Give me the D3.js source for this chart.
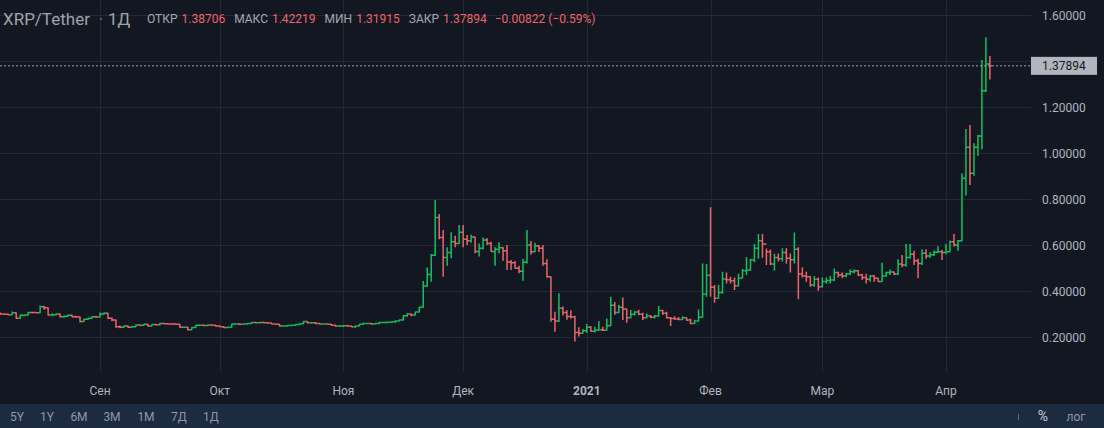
<!DOCTYPE html>
<html>
<head>
<meta charset="utf-8">
<script src="https://cdn.jsdelivr.net/npm/d3@7"></script>
<style>
html, body { margin: 0; padding: 0; background: #131722; }
svg { display: block; font-family: Roboto, "Noto Sans", sans-serif; }
</style>
</head>
<body>
<svg id="chart" width="1104" height="428"></svg>
<script>
// daily XRP/USDT bars, first bar on 2020-08-07
var firstDay = Date.UTC(2020, 7, 7);

var open = [
  .303,.300,.299,.297,.305,.282,.295,.296,.307,.306,
  .305,.332,.327,.296,.297,.300,.288,.290,.295,.288,
  .287,.267,.277,.281,.288,.287,.300,.303,.282,.274,
  .245,.242,.248,.242,.245,.252,.251,.255,.248,.254,
  .253,.259,.258,.257,.256,.255,.242,.242,.231,.241,
  .251,.251,.250,.252,.251,.248,.245,.241,.242,.256,
  .257,.255,.257,.259,.263,.262,.263,.262,.261,.257,
  .255,.248,.248,.250,.251,.254,.258,.267,.262,.262,
  .259,.257,.257,.255,.251,.248,.248,.249,.248,.245,
  .248,.255,.259,.259,.256,.259,.263,.263,.264,.265,
  .270,.274,.292,.300,.296,.309,.329,.422,.472,.555,
  .720,.633,.546,.567,.614,.607,.655,.625,.618,.635,
  .572,.586,.622,.607,.572,.581,.588,.575,.526,.523,
  .499,.486,.525,.600,.571,.596,.586,.520,.462,.277,
  .270,.325,.307,.289,.287,.220,.216,.2275,.242,.2246,
  .229,.232,.229,.249,.338,.307,.329,.322,.284,.299,
  .309,.299,.284,.291,.286,.291,.315,.303,.284,.280,
  .278,.276,.284,.274,.259,.270,.286,.386,.468,.416,
  .368,.393,.452,.449,.445,.423,.455,.488,.491,.535,
  .586,.619,.604,.571,.517,.546,.540,.567,.542,.536,
  .581,.474,.465,.462,.426,.451,.419,.441,.446,.448,
  .480,.470,.465,.474,.484,.488,.470,.459,.451,.465,
  .455,.441,.465,.480,.483,.474,.517,.513,.546,.560,
  .532,.520,.564,.552,.558,.568,.571,.567,.571,.614,
  .600,.619,.890,1.025,.912,1.025,1.074,1.271,1.38706
];
var high = [
  .306,.303,.301,.311,.307,.297,.298,.310,.310,.309,
  .337,.336,.328,.302,.302,.301,.293,.298,.297,.292,
  .289,.280,.283,.290,.291,.306,.308,.305,.285,.276,
  .250,.250,.250,.248,.254,.254,.257,.257,.255,.256,
  .262,.261,.260,.259,.258,.256,.246,.244,.243,.252,
  .253,.254,.254,.254,.252,.250,.247,.244,.258,.258,
  .259,.258,.261,.264,.265,.265,.266,.264,.262,.259,
  .256,.251,.252,.253,.255,.259,.270,.268,.264,.264,
  .261,.260,.258,.256,.253,.250,.252,.251,.249,.250,
  .257,.262,.262,.261,.261,.265,.266,.267,.267,.272,
  .276,.296,.303,.302,.310,.332,.443,.502,.561,.796,
  .735,.665,.590,.655,.640,.687,.687,.643,.645,.636,
  .606,.633,.630,.614,.590,.612,.590,.600,.535,.530,
  .510,.540,.665,.617,.610,.600,.600,.538,.463,.310,
  .390,.333,.316,.316,.292,.242,.235,.257,.248,.245,
  .270,.245,.280,.375,.352,.339,.372,.323,.317,.312,
  .318,.305,.302,.296,.296,.335,.318,.310,.287,.290,
  .287,.290,.285,.279,.275,.320,.520,.517,.764,.426,
  .426,.484,.480,.462,.459,.475,.496,.548,.540,.604,
  .648,.648,.585,.580,.562,.563,.586,.586,.563,.654,
  .590,.503,.484,.465,.465,.459,.459,.459,.465,.498,
  .484,.480,.478,.494,.494,.491,.475,.475,.470,.470,
  .458,.523,.484,.494,.484,.538,.557,.604,.604,.575,
  .540,.582,.582,.570,.576,.595,.578,.604,.620,.648,
  .622,.911,1.104,1.122,1.042,1.078,1.404,1.503,1.42219
];
var low = [
  .298,.297,.295,.296,.279,.280,.290,.294,.302,.303,
  .304,.318,.294,.292,.294,.285,.284,.288,.286,.284,
  .263,.265,.274,.279,.284,.286,.298,.278,.268,.240,
  .238,.240,.240,.241,.243,.248,.249,.246,.247,.250,
  .250,.255,.255,.254,.252,.240,.239,.228,.230,.240,
  .248,.249,.248,.249,.246,.243,.239,.238,.241,.253,
  .252,.253,.255,.257,.260,.259,.260,.258,.255,.253,
  .246,.245,.247,.248,.249,.252,.257,.259,.258,.257,
  .255,.254,.253,.249,.245,.244,.244,.245,.243,.240,
  .247,.253,.255,.254,.255,.257,.260,.261,.262,.263,
  .268,.272,.288,.290,.294,.306,.327,.419,.440,.553,
  .625,.462,.510,.542,.590,.604,.590,.600,.610,.564,
  .550,.580,.600,.571,.510,.564,.532,.491,.491,.498,
  .477,.445,.520,.559,.568,.570,.510,.458,.266,.223,
  .265,.293,.275,.280,.180,.202,.214,.219,.224,.220,
  .228,.226,.228,.248,.297,.303,.274,.262,.282,.294,
  .295,.274,.281,.281,.280,.288,.296,.280,.248,.275,
  .274,.275,.270,.255,.256,.267,.285,.375,.375,.349,
  .366,.388,.433,.433,.404,.420,.455,.470,.488,.525,
  .540,.545,.513,.513,.488,.528,.528,.520,.480,.520,
  .364,.459,.440,.419,.419,.401,.415,.433,.433,.444,
  .459,.455,.460,.470,.476,.465,.448,.433,.440,.440,
  .440,.440,.463,.470,.469,.470,.503,.505,.540,.513,
  .455,.513,.540,.544,.552,.565,.535,.560,.568,.594,
  .575,.616,.815,.861,.901,.988,1.016,1.265,1.31915
];
var close = [
  .300,.299,.297,.305,.282,.295,.296,.307,.306,.305,
  .332,.327,.296,.297,.300,.288,.290,.295,.288,.287,
  .267,.277,.281,.288,.287,.300,.303,.282,.274,.245,
  .242,.248,.242,.245,.252,.251,.255,.248,.254,.253,
  .259,.258,.257,.256,.255,.242,.242,.231,.241,.251,
  .251,.250,.252,.251,.248,.245,.241,.242,.256,.257,
  .255,.257,.259,.263,.262,.263,.262,.261,.257,.255,
  .248,.248,.250,.251,.254,.258,.267,.262,.262,.259,
  .257,.257,.255,.251,.248,.248,.249,.248,.245,.248,
  .255,.259,.259,.256,.259,.263,.263,.264,.265,.270,
  .274,.292,.300,.296,.309,.329,.422,.472,.555,.720,
  .633,.546,.567,.614,.607,.655,.625,.618,.635,.572,
  .586,.622,.607,.572,.581,.588,.575,.526,.523,.499,
  .486,.525,.600,.571,.596,.586,.520,.462,.277,.270,
  .325,.307,.289,.287,.220,.216,.2275,.242,.2246,.229,
  .232,.229,.249,.338,.307,.329,.322,.284,.299,.309,
  .299,.284,.291,.286,.291,.315,.303,.284,.280,.278,
  .276,.284,.274,.259,.270,.286,.386,.468,.416,.368,
  .393,.452,.449,.445,.423,.455,.488,.491,.535,.586,
  .619,.604,.571,.517,.546,.540,.567,.542,.536,.581,
  .474,.465,.462,.426,.451,.419,.441,.446,.448,.480,
  .470,.465,.474,.484,.488,.470,.459,.451,.465,.455,
  .441,.465,.480,.483,.474,.517,.513,.546,.560,.532,
  .520,.564,.552,.558,.568,.571,.567,.571,.614,.600,
  .619,.890,1.025,.912,1.025,1.074,1.271,1.38716,1.37894
];

var priceTicks = [0.2, 0.4, 0.6, 0.8, 1.0, 1.2, 1.4, 1.6];
var monthTicks = [Date.UTC(2020,8,1), Date.UTC(2020,9,1), Date.UTC(2020,10,1), Date.UTC(2020,11,1),
                  Date.UTC(2021,0,1), Date.UTC(2021,1,1), Date.UTC(2021,2,1), Date.UTC(2021,3,1)];
var monthLabels = ["Сен", "Окт", "Ноя", "Дек", "2021", "Фев", "Мар", "Апр"];
var rangeButtons = ["5Y", "1Y", "6M", "3M", "1M", "7Д", "1Д"];
var headerLabels = ["ОТКР", "МАКС", "МИН", "ЗАКР"];

var upColor = "#0cc45f", downColor = "#f0636a";
var textColor = "#b2b5be", gridColor = "#222837";
var plotRight = 1031, plotBottom = 372;

var bars = open.map(function (o, i) {
    return { date: new Date(firstDay + i * 86400000), o: o, h: high[i], l: low[i], c: close[i] };
});
var last = bars[bars.length - 1];
var prevClose = bars[bars.length - 2].c;

var svg = d3.select("#chart");

var x = d3.scaleUtc()
    .domain([new Date(monthTicks[0]), new Date(monthTicks[7])])
    .range([100, 946]);
var y = d3.scaleLinear().domain([0.2, 1.6]).range([337, 15]);

svg.append("rect").attr("width", 1104).attr("height", 428).attr("fill", "#131722");
svg.append("rect").attr("y", 404).attr("width", 1104).attr("height", 24).attr("fill", "#1c2b40");

svg.append("clipPath").attr("id", "plot-clip")
  .append("rect").attr("width", plotRight).attr("height", plotBottom);

// grid
var grid = svg.append("g");
grid.selectAll(".hgrid").data(priceTicks).enter().append("line")
    .attr("x1", 0).attr("x2", plotRight)
    .attr("y1", function (d) { return Math.round(y(d)) + 0.5; })
    .attr("y2", function (d) { return Math.round(y(d)) + 0.5; })
    .attr("stroke", gridColor);
grid.selectAll(".vgrid").data(monthTicks).enter().append("line")
    .attr("x1", function (d) { return Math.round(x(new Date(d))) + 0.5; })
    .attr("x2", function (d) { return Math.round(x(new Date(d))) + 0.5; })
    .attr("y1", 0).attr("y2", plotBottom)
    .attr("stroke", gridColor);

// OHLC bars
var tick = 2;
svg.append("g").attr("clip-path", "url(#plot-clip)")
  .selectAll("path").data(bars).enter().append("path")
    .attr("d", function (d) {
        var cx = x(d.date);
        return "M" + cx + "," + y(d.h) + "V" + y(d.l) +
               "M" + (cx - tick) + "," + y(d.o) + "H" + cx +
               "M" + cx + "," + y(d.c) + "H" + (cx + tick);
    })
    .attr("fill", "none")
    .attr("stroke-width", 1.5)
    .attr("stroke", function (d) { return d.c >= d.o ? upColor : downColor; });

// last price line
var lastY = y(last.c);
svg.append("line")
    .attr("x1", 0).attr("x2", plotRight)
    .attr("y1", lastY).attr("y2", lastY)
    .attr("stroke", "#9ea3ad").attr("stroke-dasharray", "2,2");

// price axis
svg.append("g").selectAll("text")
    .data(priceTicks.filter(function (d) { return Math.abs(y(d) - lastY) > 14; }))
    .enter().append("text")
    .attr("x", 1042).attr("y", function (d) { return y(d) + 4.5; })
    .attr("font-size", 12).attr("fill", textColor)
    .text(function (d) { return d.toFixed(5); });

svg.append("rect").attr("x", 1031).attr("y", lastY - 9).attr("width", 66).attr("height", 18)
    .attr("fill", "#b2b5be");
svg.append("text").attr("x", 1042).attr("y", lastY + 4.5)
    .attr("font-size", 12).attr("fill", "#131722")
    .text(last.c.toFixed(5));

// time axis
svg.append("g").selectAll("text").data(monthTicks).enter().append("text")
    .attr("x", function (d) { return x(new Date(d)); })
    .attr("y", 395)
    .attr("text-anchor", "middle")
    .attr("font-size", 12)
    .attr("font-weight", function (d, i) { return monthLabels[i] === "2021" ? "bold" : "normal"; })
    .attr("fill", textColor)
    .text(function (d, i) { return monthLabels[i]; });

// header
svg.append("text").attr("x", 3).attr("y", 25).attr("font-size", 17).attr("fill", "#9ea3ad")
    .text("XRP/Tether");
svg.append("circle").attr("cx", 101).attr("cy", 19).attr("r", 1).attr("fill", "#6b7180");
svg.append("text").attr("x", 108).attr("y", 25).attr("font-size", 17).attr("fill", "#9ea3ad")
    .text("1Д");

var hdrValues = [last.o, last.h, last.l, last.c];
var hdr = svg.append("text").attr("x", 147).attr("y", 23).attr("font-size", 12);
headerLabels.forEach(function (lab, i) {
    hdr.append("tspan").attr("dx", i === 0 ? 0 : 9).attr("fill", "#a3a7b1").text(lab);
    hdr.append("tspan").attr("dx", 4).attr("fill", downColor).text(hdrValues[i].toFixed(5));
});
var chg = last.c - prevClose;
hdr.append("tspan").attr("dx", 8).attr("fill", downColor)
    .text((chg < 0 ? "\u2212" : "+") + Math.abs(chg).toFixed(5) +
          " (" + (chg < 0 ? "\u2212" : "+") + Math.abs(chg / prevClose * 100).toFixed(2) + "%)");

// bottom toolbar
var btnX = [17, 47, 79, 112, 146, 179, 211];
svg.append("g").selectAll("text").data(rangeButtons).enter().append("text")
    .attr("x", function (d, i) { return btnX[i]; })
    .attr("y", 421).attr("text-anchor", "middle")
    .attr("font-size", 12).attr("fill", "#8e98a8")
    .text(function (d) { return d; });
svg.append("line").attr("x1", 1018.5).attr("x2", 1018.5).attr("y1", 414).attr("y2", 420)
    .attr("stroke", "#5d6b80");
svg.append("text").attr("x", 1043).attr("y", 421).attr("text-anchor", "middle")
    .attr("font-size", 14).attr("fill", "#c9ccd3").text("%");
svg.append("text").attr("x", 1076).attr("y", 421).attr("text-anchor", "middle")
    .attr("font-size", 12).attr("fill", "#8e98a8").text("лог");
</script>
</body>
</html>
